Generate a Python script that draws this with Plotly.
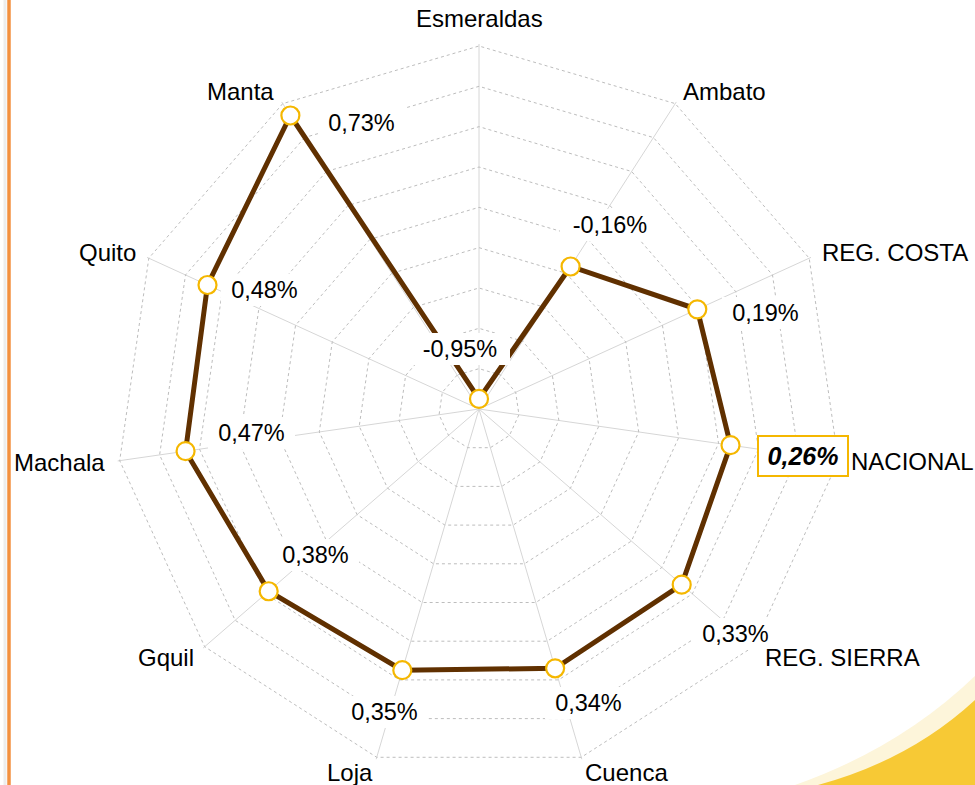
import math
import plotly.graph_objects as go

# ---------------- data ----------------
ciudades = ["Esmeraldas", "Ambato", "REG. COSTA", "NACIONAL", "REG. SIERRA",
            "Cuenca", "Loja", "Gquil", "Machala", "Quito", "Manta"]
valores = [-0.95, -0.16, 0.19, 0.26, 0.33, 0.34, 0.35, 0.38, 0.47, 0.48, 0.73]   # %
anillos = [-0.8, -0.6, -0.4, -0.2, 0.0, 0.2, 0.4, 0.6, 0.8]   # radial grid values (%)
origen = -1.0          # value at the centre of the radar
tope = 0.81            # value at the outer edge (just past the last ring)
destacado = "NACIONAL"

# ---------------- styles ----------------
W, H = 975, 785
CX, CY = 479, 409                  # pixel centre of the radar
span = tope - origen
R = 363 * span / (anillos[-1] - origen)   # outer ring lands 363 px from centre
FONT = "Liberation Sans, Arial, sans-serif"
LINE_COLOR = "#603000"
MARKER_LINE = "#F5B700"
# data-label offsets (px, right / down) from each marker to its label centre
label_dx = [-19, 39, 68, 72, 54, 33, -18, 47, 66, 57, 71]
label_dy = [-50, -41, 4, 11, 49, 35, 42, -36, -18, 5, 7]
# category-label offsets (px, right / down) from the outer-ring vertex
cat_dx = [0, 49, 86, 74, 89, 45, -27, -39, -60, -41, -42]
cat_dy = [-28, -12, -6, 1, 11, 15, 15, 11, 2, -6, -12]

def fmt(v):
    return f"{v:.2f}".replace(".", ",") + "%"

def to_xy(value, i, n):
    ang = math.radians(i * 360 / n)
    rr = value - origen
    return rr * math.sin(ang), rr * math.cos(ang)

dom_x = [(CX - R) / W, (CX + R) / W]
dom_y = [1 - (CY + R) / H, 1 - (CY - R) / H]
radio = [v - origen for v in valores]

fig = go.Figure()
fig.add_trace(go.Scatterpolar(
    r=radio + radio[:1],
    theta=ciudades + ciudades[:1],
    mode="lines",
    line=dict(color=LINE_COLOR, width=5),
    hoverinfo="skip",
    showlegend=False,
))
fig.add_trace(go.Scatterpolar(
    r=radio,
    theta=ciudades,
    mode="markers",
    marker=dict(size=18, color="#FFFFFF", line=dict(color=MARKER_LINE, width=2.2)),
    cliponaxis=False,
    hoverinfo="skip",
    showlegend=False,
))

n = len(ciudades)
annotations = []
# data labels
for i, (name, v) in enumerate(zip(ciudades, valores)):
    x, y = to_xy(v, i, n)
    is_hi = name == destacado
    txt = fmt(v)
    annotations.append(dict(
        x=x, y=y, xref="x", yref="y", showarrow=False,
        text=f"<b><i>{txt}</i></b>" if is_hi else txt,
        xshift=label_dx[i], yshift=-label_dy[i],
        font=dict(family=FONT, size=25 if is_hi else 23.5, color="black"),
        bgcolor="white",
        bordercolor=MARKER_LINE if is_hi else "rgba(0,0,0,0)",
        borderwidth=2 if is_hi else 0,
        borderpad=5 if is_hi else 3,
        width=78 if is_hi else len(txt) * 13 + 16,
    ))
# category labels, placed off the outer ring vertex
for i, name in enumerate(ciudades):
    x, y = to_xy(anillos[-1], i, n)
    annotations.append(dict(
        x=x, y=y, xref="x", yref="y", showarrow=False, text=name,
        xshift=cat_dx[i], yshift=-cat_dy[i],
        font=dict(family=FONT, size=24, color="black"),
    ))

shapes = [
    # left orange rule
    dict(type="line", xref="paper", yref="paper", x0=5 / W, x1=5 / W, y0=0, y1=1,
         line=dict(color="#EDEDED", width=3), layer="below"),
    dict(type="line", xref="paper", yref="paper", x0=9 / W, x1=9 / W, y0=0, y1=1,
         line=dict(color="#F39140", width=3.5), layer="below"),
    # yellow swoosh bottom-right
    dict(type="path", xref="paper", yref="paper",
         path=f"M {795/W},0 Q {900/W},{1-748/H} {1},{1-676/H} L 1,0 Z",
         fillcolor="#FDF5DA", line=dict(width=0), layer="below"),
    dict(type="path", xref="paper", yref="paper",
         path=f"M {818/W},0 Q {910/W},{1-760/H} {1},{1-700/H} L 1,0 Z",
         fillcolor="#F7C935", line=dict(width=0), layer="below"),
]

fig.update_layout(
    width=W, height=H,
    margin=dict(l=0, r=0, t=0, b=0, pad=0, autoexpand=False),
    paper_bgcolor="white",
    plot_bgcolor="rgba(0,0,0,0)",
    showlegend=False,
    polar=dict(
        domain=dict(x=dom_x, y=dom_y),
        gridshape="linear",
        bgcolor="rgba(0,0,0,0)",
        radialaxis=dict(range=[0, span], tickmode="array",
                        tickvals=[t - origen for t in anillos],
                        showticklabels=False, ticks="", showline=False,
                        gridcolor="#BDBDBD", griddash="dot", gridwidth=1),
        angularaxis=dict(direction="clockwise", rotation=90,
                         ticks="", showticklabels=False,
                         showline=False, gridcolor="#D6D6D6", gridwidth=1),
    ),
    xaxis=dict(domain=dom_x, range=[-span, span], visible=False, fixedrange=True),
    yaxis=dict(domain=dom_y, range=[-span, span], visible=False, fixedrange=True),
    annotations=annotations,
    shapes=shapes,
)

fig.write_html("out.html", config={"displayModeBar": False},
               post_script="document.body.style.margin='0px';")
